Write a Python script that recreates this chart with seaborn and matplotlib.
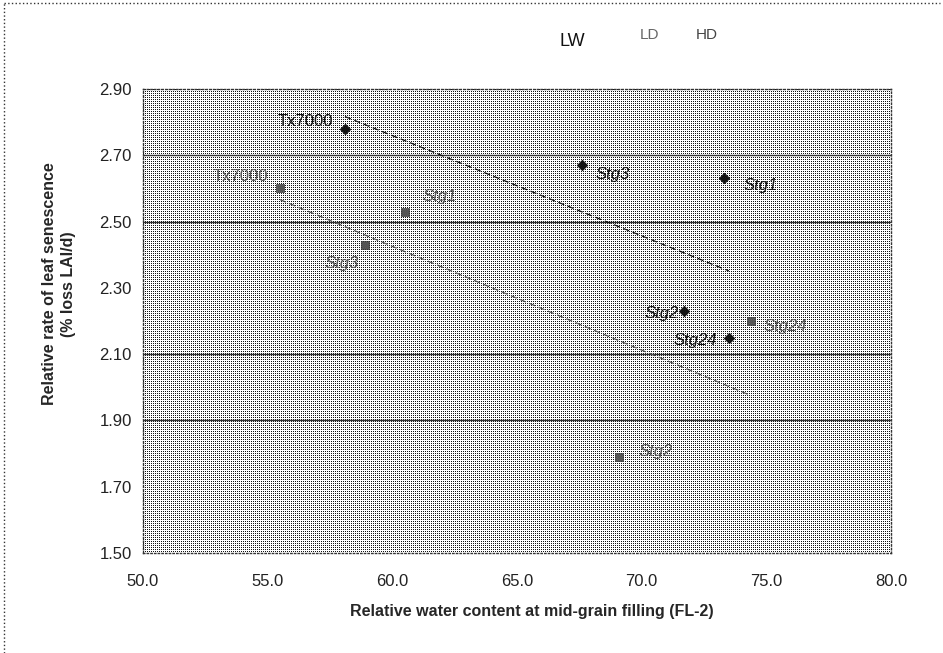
import numpy as np
import pandas as pd
import matplotlib
matplotlib.use('Agg')
import matplotlib.pyplot as plt
from matplotlib.lines import Line2D
import seaborn as sns

# data
lw_x = [58.1, 67.6, 73.3, 71.7, 73.5]
lw_y = [2.78, 2.67, 2.63, 2.23, 2.15]
lw_labels = ['Tx7000', 'Stg3', 'Stg1', 'Stg2', 'Stg24']

hd_x = [55.5, 60.5, 58.9, 74.4, 69.1]
hd_y = [2.60, 2.53, 2.43, 2.20, 1.79]
hd_labels = ['Tx7000', 'Stg1', 'Stg3', 'Stg24', 'Stg2']

x_ticks = [50.0, 55.0, 60.0, 65.0, 70.0, 75.0, 80.0]
y_ticks = [1.50, 1.70, 1.90, 2.10, 2.30, 2.50, 2.70, 2.90]
grid_y = [1.90, 2.10, 2.50, 2.70]

df_lw = pd.DataFrame({'x': lw_x, 'y': lw_y, 'label': lw_labels})
df_hd = pd.DataFrame({'x': hd_x, 'y': hd_y, 'label': hd_labels})

sns.set_style('white')
plt.rcParams['font.family'] = ['Liberation Sans', 'DejaVu Sans']

FW, FH = 943, 653
L, R, B, T = 143, 891, 100, 564   # plot area in pixels
fig, ax = plt.subplots(figsize=(FW / 100, FH / 100), dpi=100)
fig.subplots_adjust(left=L / FW, right=R / FW, bottom=B / FH, top=T / FH)
ax.set_facecolor('none')

# dotted background texture, placed pixel-exact behind the axes
yy, xx = np.mgrid[0:T - B, 0:R - L]
dots = ((xx + yy) % 2 == 0) & (yy % 2 == 0)
bg = np.where(dots, 0.08, 1.0)
fig.figimage(bg, xo=L, yo=B, cmap='gray', vmin=0, vmax=1, zorder=-1)

for g in grid_y:
    ax.axhline(g, color='#333333', lw=1.0, zorder=1, snap=True)

# trend lines
sns.regplot(data=df_lw, x='x', y='y', ax=ax, ci=None, scatter=False, truncate=True,
            line_kws=dict(ls=(0, (5, 3)), color='#111111', lw=0.9, zorder=2))
sns.regplot(data=df_hd, x='x', y='y', ax=ax, ci=None, scatter=False, truncate=True,
            line_kws=dict(ls=(0, (5, 3)), color='#555555', lw=0.9, zorder=2))

sns.scatterplot(data=df_lw, x='x', y='y', ax=ax, marker='D', s=30, color='#111111',
                edgecolor='#111111', zorder=3)
sns.scatterplot(data=df_hd, x='x', y='y', ax=ax, marker='s', s=32, color='#555555',
                edgecolor='#333333', zorder=3)

# point labels
lw_off = [(-8.6, 5), (10, -7), (14, -5), (-4, -1.5), (-8.6, -2)]
hd_off = [(-8.6, 8.6), (13, 11), (-4.3, -13.7), (8.6, -4.3), (13.7, 3.6)]
for (_, r), off in zip(df_lw.iterrows(), lw_off):
    ax.annotate(r['label'], (r['x'], r['y']), xytext=off, textcoords='offset points',
                ha='right' if off[0] < 0 else 'left', va='center', fontsize=12,
                style='normal' if r['label'] == 'Tx7000' else 'italic', color='#111111')
for (_, r), off in zip(df_hd.iterrows(), hd_off):
    ax.annotate(r['label'], (r['x'], r['y']), xytext=off, textcoords='offset points',
                ha='right' if off[0] < 0 else 'left', va='center', fontsize=12,
                style='normal' if r['label'] == 'Tx7000' else 'italic', color='#555555')

ax.set_xlim(50, 80)
ax.set_ylim(1.5, 2.9)
ax.set_xticks(x_ticks)
ax.set_xticklabels([f'{v:.1f}' for v in x_ticks])
ax.set_yticks(y_ticks)
ax.set_yticklabels([f'{v:.2f}' for v in y_ticks])
ax.tick_params(axis='both', labelsize=12, colors='#222222', length=5, width=0.8, direction='out')
ax.tick_params(axis='x', pad=10)
ax.tick_params(axis='y', pad=3)

for s in ax.spines.values():
    s.set_linestyle(':')
    s.set_color('#333333')
    s.set_linewidth(1)

ax.set_xlabel('Relative water content at mid-grain filling (FL-2)', fontsize=11.5, fontweight='bold')
ax.set_ylabel('Relative rate of leaf senescence\n(% loss LAI/d)', fontsize=11.5, fontweight='bold',
              linespacing=1.3)
ax.xaxis.set_label_coords(0.52, -0.11)
ax.yaxis.set_label_coords(-0.09, 0.58)

# legend-like header texts
fig.text(0.607, 0.936, 'LW', fontsize=13, ha='center', va='center', color='#111111')
fig.text(0.689, 0.946, 'LD', fontsize=11, ha='center', va='center', color='#666666')
fig.text(0.749, 0.946, 'HD', fontsize=11, ha='center', va='center', color='#444444')

# dotted outer border (left and top)
fig.add_artist(Line2D([0.004, 0.004], [0.0, 0.996], transform=fig.transFigure,
                      ls=':', color='#333333', lw=1))
fig.add_artist(Line2D([0.004, 0.997], [0.996, 0.996], transform=fig.transFigure,
                      ls=':', color='#333333', lw=1))

fig.savefig('out.png', dpi=100)
